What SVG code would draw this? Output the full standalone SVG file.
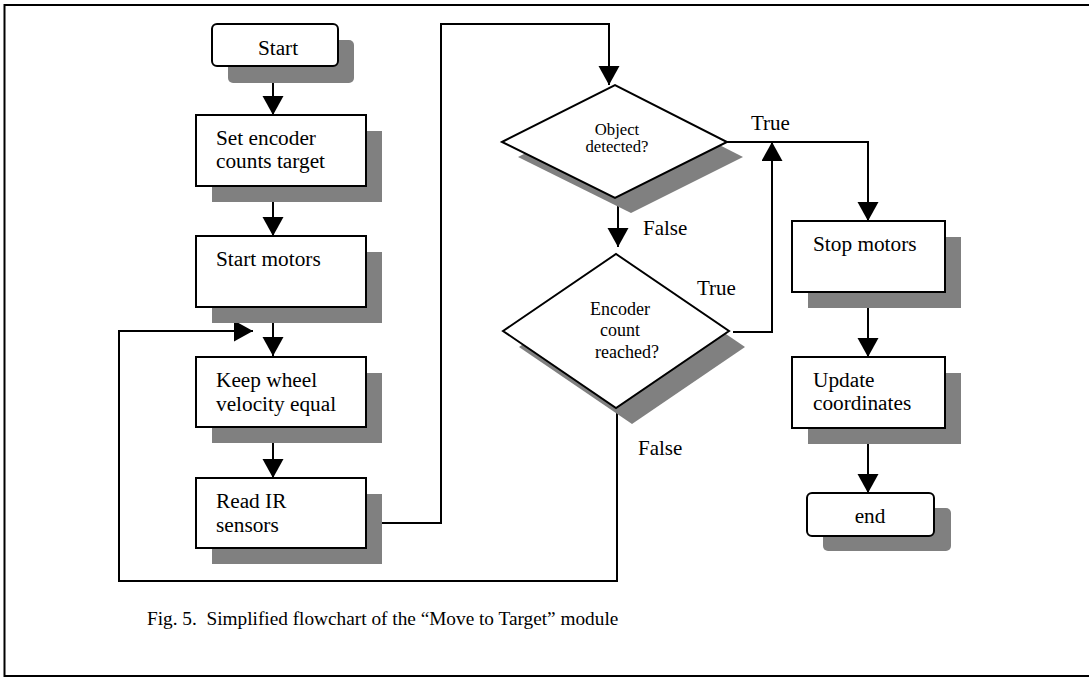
<svg xmlns="http://www.w3.org/2000/svg" width="1089" height="677" viewBox="0 0 1089 677">
<defs>
<marker id="arr" markerUnits="userSpaceOnUse" markerWidth="20" markerHeight="22" refX="19" refY="10.5" orient="auto">
<path d="M0,0 L19,10.5 L0,21 z" fill="#000"/>
</marker>
<style>
.box{fill:#fff;stroke:#000;stroke-width:2}
.sh{fill:#808080;stroke:none}
.c{fill:none;stroke:#000;stroke-width:2}
.a{marker-end:url(#arr)}
</style>
</defs>
<rect x="0" y="0" width="1089" height="677" fill="#fff"/>
<rect x="4.5" y="5" width="1100" height="671" fill="none" stroke="#000" stroke-width="2"/>

<g id="connectors">
<path class="c a" d="M273,66 V115"/>
<path class="c a" d="M273,186 V236"/>
<path class="c a" d="M273,307 V356"/>
<path class="c a" d="M617,408 V581 H119 V331 H253"/>
<path class="c a" d="M273,427 V478"/>
<path class="c a" d="M366,523 H441 V24 H609 V85"/>
<path class="c a" d="M618,198 V247"/>
<path class="c a" d="M727,142 H868 V221"/>
<path class="c a" d="M733,332 H772 V142"/>
<path class="c a" d="M868,292 V357"/>
<path class="c a" d="M868,428 V493"/>
<text x="643" y="235" style="font-family:'Liberation Serif','Times New Roman',serif;font-size:21px" fill="#000">False</text>
<text x="751" y="130" style="font-family:'Liberation Serif','Times New Roman',serif;font-size:21px" fill="#000">True</text>
<text x="697" y="295" style="font-family:'Liberation Serif','Times New Roman',serif;font-size:21px" fill="#000">True</text>
<text x="638" y="455" style="font-family:'Liberation Serif','Times New Roman',serif;font-size:21px" fill="#000">False</text>
</g>

<g id="start">
<rect class="sh" x="228" y="40" width="126" height="43" rx="5"/>
<rect class="box" x="212" y="24" width="126" height="42" rx="5"/>
<text x="278" y="55" text-anchor="middle" style="font-family:'Liberation Serif','Times New Roman',serif;font-size:21.3px" fill="#000">Start</text>
</g>

<g id="set-encoder">
<rect class="sh" x="212" y="131" width="170" height="71"/>
<rect class="box" x="196" y="115" width="170" height="71"/>
<text x="216" y="145" style="font-family:'Liberation Serif','Times New Roman',serif;font-size:21.3px" fill="#000">Set encoder</text>
<text x="216" y="168" style="font-family:'Liberation Serif','Times New Roman',serif;font-size:21.3px" fill="#000">counts target</text>
</g>

<g id="start-motors">
<rect class="sh" x="212" y="252" width="170" height="71"/>
<rect class="box" x="196" y="236" width="170" height="71"/>
<text x="216" y="266" style="font-family:'Liberation Serif','Times New Roman',serif;font-size:21.3px" fill="#000">Start motors</text>
</g>

<g id="keep-wheel">
<rect class="sh" x="212" y="373" width="170" height="70"/>
<rect class="box" x="196" y="357" width="170" height="70"/>
<text x="216" y="387" style="font-family:'Liberation Serif','Times New Roman',serif;font-size:21.3px" fill="#000">Keep wheel</text>
<text x="216" y="411" style="font-family:'Liberation Serif','Times New Roman',serif;font-size:21.3px" fill="#000">velocity equal</text>
</g>

<g id="read-ir">
<rect class="sh" x="212" y="494" width="170" height="70"/>
<rect class="box" x="196" y="478" width="170" height="70"/>
<text x="216" y="508" style="font-family:'Liberation Serif','Times New Roman',serif;font-size:21.3px" fill="#000">Read IR</text>
<text x="216" y="532" style="font-family:'Liberation Serif','Times New Roman',serif;font-size:21.3px" fill="#000">sensors</text>
</g>

<g id="object-detected">
<polygon class="sh" points="518,157 631,100 743,157 631,213"/>
<polygon class="box" points="502,142 615,85 727,142 615,198"/>
<text x="617" y="135" text-anchor="middle" style="font-family:'Liberation Serif','Times New Roman',serif;font-size:16.7px" fill="#000">Object</text>
<text x="617" y="152" text-anchor="middle" style="font-family:'Liberation Serif','Times New Roman',serif;font-size:16.7px" fill="#000">detected?</text>
</g>

<g id="encoder-reached">
<polygon class="sh" points="519,347 632,270 745,347 632,424"/>
<polygon class="box" points="503,331 616,254 729,331 616,408"/>
<text x="620" y="315" text-anchor="middle" style="font-family:'Liberation Serif','Times New Roman',serif;font-size:18px" fill="#000">Encoder</text>
<text x="620" y="336" text-anchor="middle" style="font-family:'Liberation Serif','Times New Roman',serif;font-size:18px" fill="#000">count</text>
<text x="627" y="358" text-anchor="middle" style="font-family:'Liberation Serif','Times New Roman',serif;font-size:18px" fill="#000">reached?</text>
</g>

<g id="stop-motors">
<rect class="sh" x="808" y="237" width="153" height="71"/>
<rect class="box" x="792" y="221" width="153" height="71"/>
<text x="813" y="251" style="font-family:'Liberation Serif','Times New Roman',serif;font-size:21.3px" fill="#000">Stop motors</text>
</g>

<g id="update-coordinates">
<rect class="sh" x="808" y="373" width="153" height="71"/>
<rect class="box" x="792" y="357" width="153" height="71"/>
<text x="813" y="387" style="font-family:'Liberation Serif','Times New Roman',serif;font-size:21.3px" fill="#000">Update</text>
<text x="813" y="410" style="font-family:'Liberation Serif','Times New Roman',serif;font-size:21.3px" fill="#000">coordinates</text>
</g>

<g id="end">
<rect class="sh" x="823" y="508" width="128" height="43" rx="5"/>
<rect class="box" x="807" y="493" width="127" height="43" rx="5"/>
<text x="870" y="523" text-anchor="middle" style="font-family:'Liberation Serif','Times New Roman',serif;font-size:21.3px" fill="#000">end</text>
</g>

<text id="caption" x="147" y="625" style="font-family:'Liberation Serif','Times New Roman',serif;font-size:19.3px" fill="#000" xml:space="preserve">Fig. 5.  Simplified flowchart of the “Move to Target” module</text>
</svg>
